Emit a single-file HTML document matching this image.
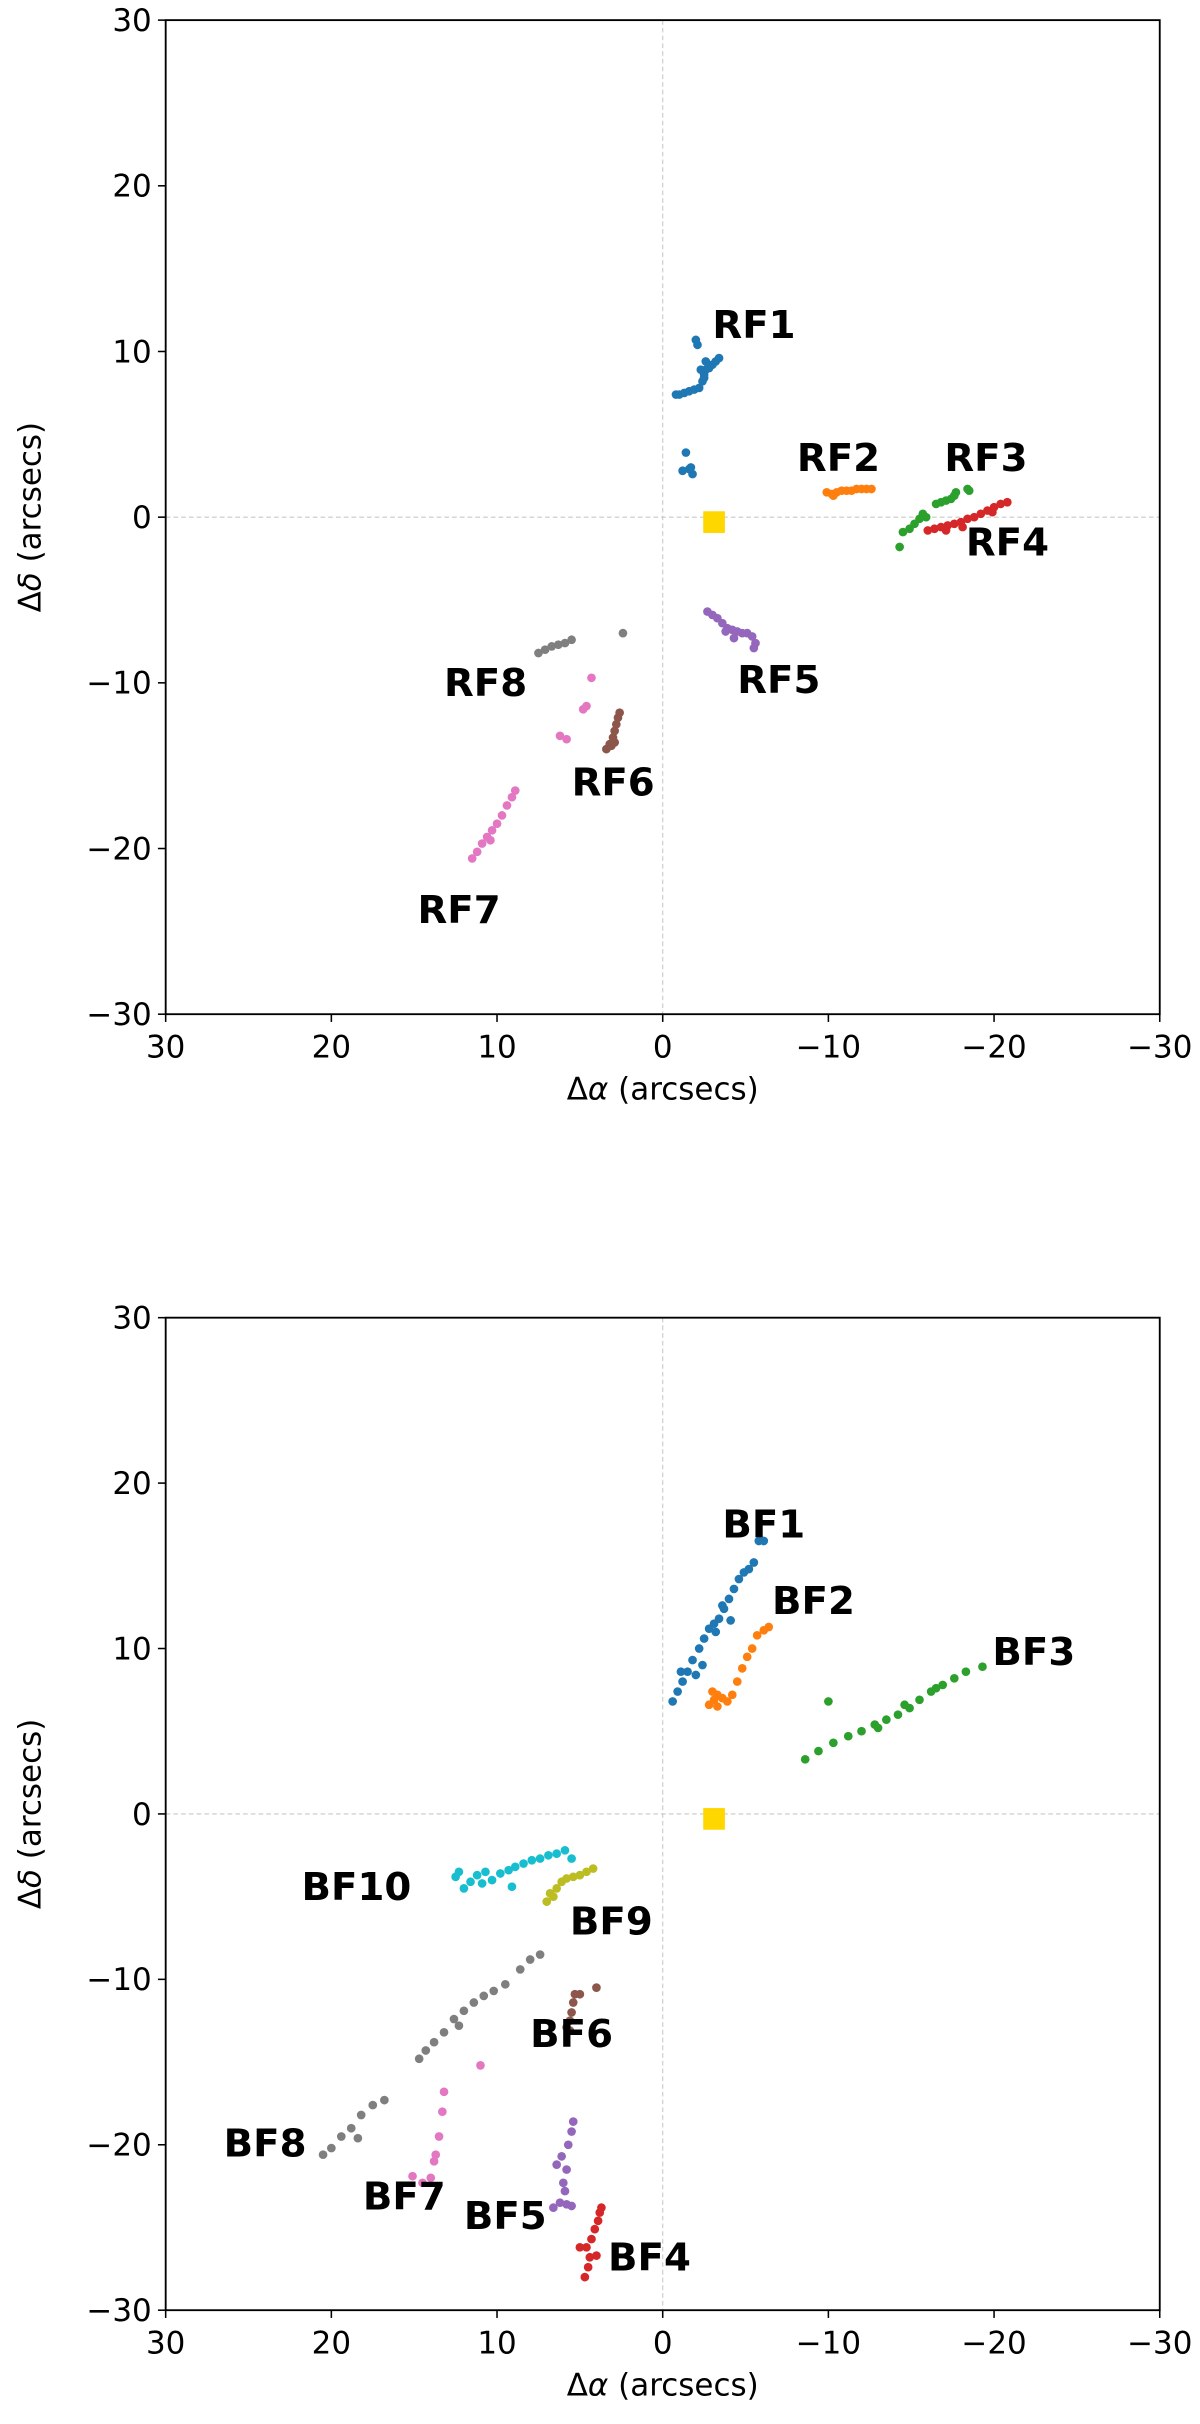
<!DOCTYPE html>
<html><head><meta charset="utf-8"><style>
html,body{margin:0;padding:0;background:#fff}
svg{display:block}
text{font-family:"DejaVu Sans","Liberation Sans",sans-serif;fill:#000}
</style></head><body>
<svg id="fig" width="1200" height="2424" viewBox="0 0 775 1565.5" preserveAspectRatio="none" xmlns="http://www.w3.org/2000/svg"></svg>
<script>
const xTicks=[30,20,10,0,-10,-20,-30];
const yTicks=[30,20,10,0,-10,-20,-30];
const xTickLabels=["30","20","10","0","\u221210","\u221220","\u221230"];
const yTickLabels=["30","20","10","0","\u221210","\u221220","\u221230"];
const colors=["#1f77b4","#ff7f0e","#2ca02c","#d62728","#9467bd","#8c564b","#e377c2","#7f7f7f","#bcbd22","#17becf"];
const sunPos=[-3.1,-0.3];
const topNames=["RF1","RF2","RF3","RF4","RF5","RF6","RF7","RF8"];
const topLabelPos=[[-3.0,10.8],[-8.1,2.8],[-17.0,2.8],[-18.3,-2.3],[-4.5,-10.6],[5.5,-16.8],[14.8,-24.5],[13.2,-10.8]];
const RF1=[[-0.8,7.4],[-1.0,7.4],[-1.3,7.5],[-1.6,7.6],[-1.9,7.7],[-2.2,7.8],[-2.4,8.2],[-2.5,8.6],[-2.6,8.9],[-2.3,8.9],[-2.8,9.0],[-3.0,9.2],[-3.2,9.4],[-3.4,9.6],[-2.6,9.4],[-2.1,10.4],[-2.0,10.7],[-2.5,8.4],[-1.4,3.9],[-1.2,2.8],[-1.7,3.0],[-1.8,2.6],[-1.6,2.9]];
const RF2=[[-9.9,1.5],[-10.2,1.4],[-10.5,1.5],[-10.8,1.6],[-11.1,1.6],[-11.4,1.6],[-11.7,1.7],[-12.0,1.7],[-12.3,1.7],[-12.6,1.7],[-10.3,1.3]];
const RF3=[[-14.5,-0.9],[-14.9,-0.7],[-15.2,-0.4],[-15.5,-0.1],[-15.7,0.2],[-15.9,0.0],[-16.5,0.8],[-16.8,0.9],[-17.1,1.0],[-17.4,1.1],[-17.7,1.5],[-17.6,1.3],[-18.4,1.7],[-18.5,1.6],[-14.3,-1.8]];
const RF4=[[-16.0,-0.8],[-16.4,-0.7],[-16.8,-0.6],[-17.2,-0.5],[-17.6,-0.4],[-18.0,-0.3],[-18.4,-0.1],[-18.8,0.0],[-19.2,0.2],[-19.6,0.4],[-20.0,0.6],[-20.4,0.8],[-20.8,0.9],[-19.9,0.3],[-18.1,-0.6],[-17.1,-0.8]];
const RF5=[[-2.7,-5.7],[-3.0,-5.9],[-3.3,-6.1],[-3.6,-6.4],[-3.9,-6.7],[-4.2,-6.8],[-4.5,-6.9],[-4.8,-7.0],[-5.1,-7.0],[-5.4,-7.2],[-5.6,-7.6],[-5.5,-7.9],[-4.3,-7.3],[-3.8,-6.9]];
const RF6=[[3.4,-14.0],[3.2,-13.7],[3.0,-13.3],[2.9,-12.9],[2.8,-12.5],[2.7,-12.1],[2.6,-11.8],[3.1,-13.8],[2.9,-13.6]];
const RF7=[[11.5,-20.6],[11.2,-20.2],[10.9,-19.7],[10.6,-19.3],[10.3,-18.9],[10.0,-18.5],[9.7,-18.0],[9.4,-17.4],[9.1,-16.9],[8.9,-16.5],[10.4,-19.5],[4.3,-9.7],[4.6,-11.4],[4.8,-11.6],[6.2,-13.2],[5.8,-13.4]];
const RF8=[[7.5,-8.2],[7.1,-8.0],[6.7,-7.8],[6.3,-7.7],[5.9,-7.6],[5.5,-7.4],[2.4,-7.0]];
const topData=[RF1,RF2,RF3,RF4,RF5,RF6,RF7,RF8];
const botNames=["BF1","BF2","BF3","BF4","BF5","BF6","BF7","BF8","BF9","BF10"];
const botLabelPos=[[-3.6,16.7],[-6.6,12.1],[-19.9,9.0],[3.3,-27.6],[12.0,-25.1],[8.0,-14.1],[18.1,-23.9],[26.5,-20.7],[5.6,-7.3],[21.8,-5.2]];
const BF1=[[-0.6,6.8],[-0.9,7.4],[-1.2,8.0],[-1.5,8.6],[-1.8,9.3],[-2.2,10.0],[-2.5,10.6],[-2.8,11.2],[-3.1,11.5],[-3.4,11.8],[-3.7,12.4],[-4.0,13.0],[-4.3,13.6],[-4.6,14.2],[-4.9,14.6],[-5.2,14.8],[-5.5,15.2],[-5.8,16.5],[-6.1,16.5],[-2.0,8.4],[-3.2,11.0],[-4.1,11.7],[-1.1,8.6],[-3.6,12.6],[-2.4,9.0]];
const BF2=[[-2.8,6.6],[-3.1,6.9],[-3.3,7.2],[-3.6,7.0],[-3.9,6.8],[-4.2,7.2],[-4.5,8.0],[-4.8,8.8],[-5.1,9.5],[-5.4,10.0],[-5.7,10.8],[-6.1,11.1],[-6.4,11.3],[-3.0,7.4],[-3.3,6.5]];
const BF3=[[-8.6,3.3],[-9.4,3.8],[-10.3,4.3],[-11.2,4.7],[-12.0,5.0],[-12.8,5.4],[-13.5,5.7],[-14.2,6.0],[-14.9,6.4],[-15.5,6.9],[-16.2,7.4],[-16.9,7.8],[-17.6,8.2],[-18.3,8.6],[-19.3,8.9],[-10.0,6.8],[-13.0,5.2],[-14.6,6.6],[-16.5,7.6]];
const BF4=[[4.7,-28.0],[4.5,-27.4],[4.4,-26.8],[4.6,-26.2],[4.3,-25.7],[4.1,-25.1],[3.9,-24.6],[3.8,-24.1],[3.7,-23.8],[5.0,-26.2],[4.0,-26.7]];
const BF5=[[6.6,-23.8],[6.2,-23.5],[5.8,-23.6],[5.5,-23.7],[6.0,-22.3],[5.8,-21.5],[6.1,-20.7],[5.7,-20.0],[5.5,-19.2],[5.4,-18.6],[6.4,-21.2],[5.9,-22.8]];
const BF6=[[5.8,-12.9],[5.6,-12.5],[5.5,-12.0],[5.4,-11.4],[5.3,-10.9],[4.0,-10.5],[5.0,-10.9],[5.6,-13.1]];
const BF7=[[14.5,-22.3],[14.0,-22.0],[13.7,-20.6],[13.5,-19.5],[13.3,-18.0],[13.2,-16.8],[15.1,-21.9],[11.0,-15.2],[13.8,-21.0]];
const BF8=[[20.5,-20.6],[20.0,-20.2],[19.4,-19.5],[18.8,-19.0],[18.2,-18.2],[17.5,-17.6],[16.8,-17.3],[14.7,-14.8],[14.3,-14.3],[13.8,-13.8],[13.2,-13.2],[12.6,-12.4],[12.0,-11.9],[11.4,-11.4],[10.8,-11.0],[10.2,-10.7],[9.5,-10.3],[8.6,-9.4],[8.0,-8.8],[7.4,-8.5],[18.4,-19.6],[12.3,-12.8]];
const BF9=[[7.0,-5.3],[6.6,-5.0],[6.4,-4.5],[6.1,-4.1],[5.8,-3.9],[5.4,-3.8],[5.0,-3.7],[4.6,-3.5],[4.2,-3.3],[6.8,-4.8]];
const BF10=[[12.5,-3.8],[12.0,-4.5],[11.6,-4.1],[11.2,-3.7],[10.7,-3.5],[10.3,-4.0],[9.8,-3.6],[9.3,-3.4],[8.9,-3.2],[8.4,-3.0],[7.9,-2.8],[7.4,-2.7],[6.9,-2.5],[6.4,-2.4],[5.9,-2.2],[5.5,-2.7],[9.1,-4.4],[10.9,-4.2],[12.3,-3.5]];
const botData=[BF1,BF2,BF3,BF4,BF5,BF6,BF7,BF8,BF9,BF10];

const NS="http://www.w3.org/2000/svg";
const svg=document.getElementById('fig');
function mk(tag,attrs,parent){const e=document.createElementNS(NS,tag);for(const k in attrs)e.setAttribute(k,attrs[k]);(parent||svg).appendChild(e);return e;}

function panel(prefix,top,bottom,data,names,labelPos){
  const L=107,R=749;
  const g=mk('g',{});
  
  
  const sx=v=>L+(30-v)/60*(R-L);
  const sy=v=>top+(30-v)/60*(bottom-top);
  const gl1=mk('line',{x1:sx(0),x2:sx(0),y1:top,y2:bottom,stroke:'#c8c8c8','stroke-width':0.7,'stroke-dasharray':'3,2'},g);
  
  
  const gl2=mk('line',{x1:L,x2:R,y1:sy(0),y2:sy(0),stroke:'#c8c8c8','stroke-width':0.7,'stroke-dasharray':'3,2'},g);
  
  
  data.forEach((pts,i)=>{
    const sg=mk('g',{fill:colors[i]},g);
    
    
    pts.forEach(p=>{
      const c=mk('circle',{cx:sx(p[0]),cy:sy(p[1]),r:2.8},sg);
      
      
    });
    const t=mk('text',{x:sx(labelPos[i][0]),y:sy(labelPos[i][1]),'font-size':25,'font-weight':'bold'},g);
    t.textContent=names[i];
    
    
  });
  const sq=mk('rect',{x:sx(sunPos[0])-7,y:sy(sunPos[1])-7,width:14,height:14,fill:'#ffd700'},g);
  
  
  const fr=mk('rect',{x:L,y:top,width:R-L,height:bottom-top,fill:'none',stroke:'#000','stroke-width':1.2},g);
  
  
  xTicks.forEach((v,i)=>{
    const tk=mk('line',{x1:sx(v),x2:sx(v),y1:bottom,y2:bottom+5,stroke:'#000','stroke-width':1},g);
    
    
    const t=mk('text',{x:sx(v),y:bottom+28,'font-size':20,'text-anchor':'middle'},g);
    t.textContent=xTickLabels[i];
    
    
  });
  yTicks.forEach((v,i)=>{
    const tk=mk('line',{x1:L-5,x2:L,y1:sy(v),y2:sy(v),stroke:'#000','stroke-width':1},g);
    
    
    const t=mk('text',{x:L-9,y:sy(v)+7,'font-size':20,'text-anchor':'end'},g);
    t.textContent=yTickLabels[i];
    
    
  });
  const xt=mk('text',{x:(L+R)/2,y:bottom+55,'font-size':20,'text-anchor':'middle'},g);
  xt.innerHTML='\u0394<tspan font-style="italic">\u03b1</tspan> (arcsecs)';
  
  
  const yt=mk('text',{x:0,y:0,'font-size':20,'text-anchor':'middle',transform:`translate(26,${(top+bottom)/2}) rotate(-90)`},g);
  yt.innerHTML='\u0394<tspan font-style="italic">\u03b4</tspan> (arcsecs)';
  
  
}
panel('top',13,655,topData,topNames,topLabelPos);
panel('bottom',851,1492,botData,botNames,botLabelPos);
</script>
</body></html>
